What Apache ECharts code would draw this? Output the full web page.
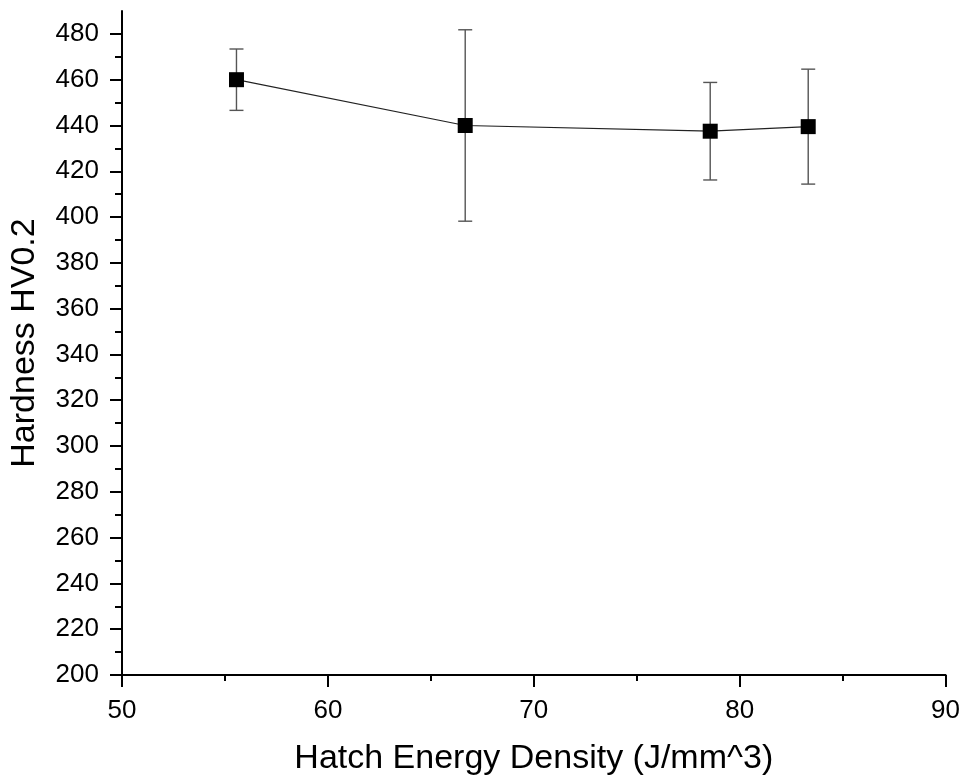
<!DOCTYPE html>
<html>
<head>
<meta charset="utf-8">
<script src="https://cdn.jsdelivr.net/npm/echarts@6/dist/echarts.min.js"></script>
<style>
html,body{margin:0;padding:0;background:#fff;}
#chart{width:963px;height:781px;}
</style>
</head>
<body>
<div id="chart"></div>
<script>
// Data
const hatchEnergy = [55.56, 66.67, 78.57, 83.33];
const hardness = [460, 440, 437.5, 439.5];
const hardnessErr = [13.4, 41.8, 21.3, 25.1];

const yMajorTicks = [200, 220, 240, 260, 280, 300, 320, 340, 360, 380, 400, 420, 440, 460, 480];
const yMinorTicks = [210, 230, 250, 270, 290, 310, 330, 350, 370, 390, 410, 430, 450, 470];

const xTitle = 'Hatch Energy Density (J/mm^3)';
const yTitle = 'Hardness HV0.2';

const points = hatchEnergy.map((x, i) => [x, hardness[i]]);
const errData = hatchEnergy.map((x, i) => [x, hardness[i] - hardnessErr[i], hardness[i] + hardnessErr[i]]);

const chart = echarts.init(document.getElementById('chart'), null, {renderer: 'canvas'});

const axisLineStyle = {color: '#000', width: 2};
const tickFont = {color: '#000', fontSize: 26, fontFamily: 'Liberation Sans'};

chart.setOption({
  animation: false,
  backgroundColor: '#fff',
  grid: {left: 121.5, right: 17.3, top: 11, bottom: 106, containLabel: false},
  xAxis: [{
    type: 'value', min: 50, max: 90, interval: 10,
    name: xTitle, nameLocation: 'middle', nameGap: 67,
    nameTextStyle: {color: '#000', fontSize: 34, fontFamily: 'Liberation Sans'},
    axisLine: {show: true, onZero: false, lineStyle: axisLineStyle},
    axisTick: {show: true, inside: false, length: 12, lineStyle: axisLineStyle},
    minorTick: {show: true, splitNumber: 2, length: 6, lineStyle: axisLineStyle},
    axisLabel: Object.assign({margin: 23}, tickFont),
    splitLine: {show: false}, minorSplitLine: {show: false}
  }],
  yAxis: [{
    type: 'value', min: 200, max: 490, interval: 20,
    name: yTitle, nameLocation: 'middle', nameGap: 80, nameRotate: 90,
    nameTextStyle: {color: '#000', fontSize: 34, fontFamily: 'Liberation Sans'},
    axisLine: {show: true, onZero: false, lineStyle: axisLineStyle},
    axisTick: {show: true, inside: false, length: 12, lineStyle: axisLineStyle, customValues: yMajorTicks},
    axisLabel: Object.assign({margin: 23, customValues: yMajorTicks}, tickFont),
    splitLine: {show: false}
  }, {
    type: 'value', min: 200, max: 490, interval: 20, position: 'left',
    axisLine: {show: false},
    axisTick: {show: true, inside: false, length: 7, lineStyle: axisLineStyle, customValues: yMinorTicks},
    axisLabel: {show: false},
    splitLine: {show: false}
  }],
  series: [{
    type: 'custom',
    name: 'error',
    xAxisIndex: 0, yAxisIndex: 0,
    data: errData,
    z: 2,
    renderItem: function (params, api) {
      const x = api.value(0);
      const lo = api.coord([x, api.value(1)]);
      const hi = api.coord([x, api.value(2)]);
      const hw = 7;
      const style = {stroke: '#555', lineWidth: 1.4, fill: null};
      return {
        type: 'group',
        children: [
          {type: 'line', shape: {x1: lo[0], y1: lo[1], x2: hi[0], y2: hi[1]}, style: style},
          {type: 'line', shape: {x1: lo[0] - hw, y1: lo[1], x2: lo[0] + hw, y2: lo[1]}, style: style},
          {type: 'line', shape: {x1: hi[0] - hw, y1: hi[1], x2: hi[0] + hw, y2: hi[1]}, style: style}
        ]
      };
    }
  }, {
    type: 'line',
    name: 'Hardness',
    xAxisIndex: 0, yAxisIndex: 0,
    data: points,
    z: 3,
    symbol: 'rect',
    symbolSize: 15,
    showAllSymbol: true,
    lineStyle: {color: '#222', width: 1.2},
    itemStyle: {color: '#000', borderColor: '#000', borderWidth: 0}
  }]
});
</script>
</body>
</html>
